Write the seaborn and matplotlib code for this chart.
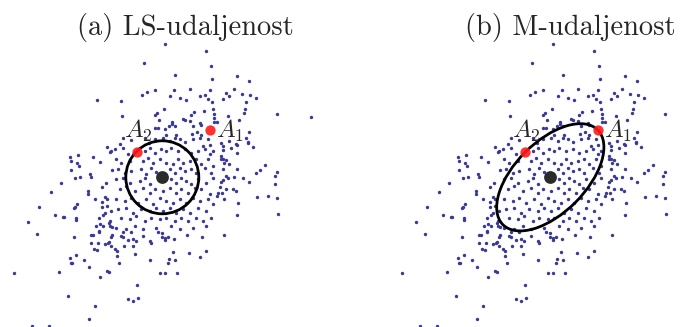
import matplotlib
matplotlib.use("Agg")
import matplotlib.pyplot as plt
from matplotlib.patches import Circle, Ellipse
import seaborn as sns
import pandas as pd

# ---- data (same sample in both panels) ----
xs = [
    # upper middle
    165.3, 206.3, 143.7, 211.3, 175.3, 212.0, 146.7, 142.3, 155.0, 174.0, 190.0, 210.3, 170.3, 180.0, 186.3,
    200.3, 204.7, 207.7, 212.0, 120.7, 164.0, 122.0, 156.7, 155.3, 194.3, 190.7, 204.3, 212.7, 214.3, 182.7,
    185.0, 189.7, 159.0, 171.7, 172.3, 199.7, 200.7, 169.0, 175.0, 155.3, 158.3, 164.7, 193.0, 214.0, 214.3,
    192.3, 197.3, 166.3, 176.0, 201.3,
    # upper right
    237.3, 249.3, 234.3, 226.0, 242.0, 250.0, 228.7, 222.7, 256.3, 246.3, 245.3, 244.0, 277.0, 311.3, 228.0,
    239.3, 217.3, 249.0,
    # upper left
    96.7,
    # middle left
    107.3, 111.3, 110.3, 77.7, 69.7, 93.3, 71.0, 100.3, 76.7, 79.0, 70.7, 112.0, 90.3, 91.0, 80.0,
    75.3, 61.0, 106.3, 102.3, 51.3, 88.0, 88.0, 95.0, 105.0, 107.0, 102.3, 77.3, 75.0, 74.3, 38.7,
    102.3, 107.3, 111.3, 105.0, 103.0, 55.3, 63.7, 63.0, 76.0, 75.7, 99.3, 28.3, 110.0, 109.3, 100.0,
    96.0, 102.7, 109.7, 111.7, 99.0,
    # center
    119.7, 131.3, 123.0, 144.7, 149.0, 154.7, 163.0, 169.7, 174.7, 179.7, 184.7, 193.0, 200.3, 208.0, 209.7, 203.0,
    114.7, 123.0, 128.0, 144.7, 149.7, 154.7, 161.3, 166.3, 171.3, 178.0, 184.7, 191.3, 198.0, 204.7, 209.7, 213.0,
    116.3, 121.3, 129.7, 143.0, 148.0, 153.0, 159.7, 166.3, 173.0, 178.0, 183.0, 189.7, 196.3, 201.3, 208.0, 213.0,
    118.0, 124.7, 131.3, 141.3, 146.3, 151.3, 156.3, 169.7, 174.7, 179.7, 184.7, 191.3, 196.3, 204.7, 211.3,
    116.3, 123.0, 129.7, 139.7, 144.7, 149.7, 171.3, 176.3, 181.3, 186.3, 191.3, 198.0, 206.3, 213.0,
    119.7, 126.3, 134.7, 143.0, 149.7, 154.7, 163.0, 169.7, 176.3, 181.3, 188.0, 194.7, 201.3, 209.7,
    116.3, 124.7, 131.3, 138.0, 146.3, 153.0, 159.7, 166.3, 173.0, 179.7, 186.3, 193.0, 199.7, 208.0, 213.0,
    118.0, 126.3, 133.0, 141.3, 149.7, 156.3, 163.0, 169.7, 176.3, 183.0, 189.7, 198.0, 206.3,
    121.3, 129.7, 136.3, 144.7, 151.3, 159.7, 166.3, 174.7, 181.3, 188.0, 196.3, 203.0, 211.3,
    116.3, 126.3, 134.7, 143.0, 156.3, 171.3, 179.7, 193.0, 206.3,
    # middle right
    220.7, 229.3, 223.0, 236.0, 237.0, 246.0, 248.3, 248.0, 253.3, 230.7, 223.0, 237.0, 220.7, 220.7, 222.7,
    226.0, 224.3, 228.7, 265.0, 223.0, 237.0, 259.7, 255.7, 277.0, 274.7, 233.7, 243.3, 226.0, 227.7, 223.3,
    221.0, 249.3, 275.3, 219.7, 226.0, 232.7, 235.7, 218.0, 222.0, 217.3, 223.7, 256.7, 268.0, 277.3, 237.7,
    237.0, 277.7,
    # lower left
    36.7, 74.0, 91.0, 92.7, 99.0, 110.7, 111.7, 91.3, 98.3, 105.0, 108.3, 109.3, 111.0, 94.3, 97.3,
    76.0, 70.3, 83.7, 70.7, 72.3, 89.0, 13.7, 58.7, 107.3, 109.3, 99.7, 68.3, 94.7, 88.7, 31.7, 49.0,
    # lower middle
    123.0, 131.3, 121.3, 122.7, 143.0, 133.0, 128.0, 136.0, 149.7, 151.3, 123.7, 132.7, 158.0, 162.3, 162.3,
    165.3, 165.3, 167.7, 174.0, 187.0, 202.3, 115.0, 116.7, 135.3, 173.3, 189.0, 206.3, 199.7, 117.3, 169.0,
    175.3, 149.7, 168.3, 118.7, 160.0, 164.7, 177.3, 137.3, 127.7, 132.7, 138.3,
    # lower right
    224.3,
]
ys = [
    44.3, 51.3, 62.7, 66.3, 75.3, 79.0, 92.0, 95.0, 90.3, 89.7, 88.7, 90.3, 96.0, 98.0, 100.0,
    96.3, 94.7, 99.0, 102.3, 101.3, 109.3, 115.7, 113.0, 114.7, 112.0, 114.7, 111.0, 108.7, 113.7, 118.7,
    120.0, 121.0, 120.3, 121.7, 124.0, 123.0, 125.0, 126.0, 126.0, 128.0, 128.3, 129.3, 126.0, 117.7, 122.0,
    134.0, 131.7, 135.0, 135.0, 135.3,
    75.7, 81.3, 89.0, 93.3, 94.0, 95.3, 96.0, 99.0, 98.0, 102.0, 109.3, 113.3, 114.3, 116.7, 116.3,
    120.0, 122.3, 132.0,
    100.3,
    146.7, 150.7, 151.7, 154.7, 157.3, 157.3, 160.7, 162.0, 163.3, 166.3, 170.0, 169.7, 174.3, 177.0, 177.0,
    178.3, 182.7, 183.0, 186.7, 191.7, 191.0, 194.3, 198.7, 197.3, 198.7, 201.7, 204.0, 207.0, 208.3, 207.0,
    206.7, 206.3, 211.0, 213.0, 214.7, 215.3, 216.7, 217.3, 218.3, 220.3, 218.3, 221.7, 221.0, 222.7, 224.3,
    226.0, 226.3, 226.0, 227.0, 231.3,
    144.3, 140.0, 137.7, 137.7, 142.7, 138.7, 137.7, 141.0, 137.7, 139.3, 142.0, 139.3, 137.7, 139.3, 145.3, 146.0,
    149.3, 147.7, 154.3, 151.0, 147.7, 152.7, 149.3, 151.0, 147.7, 151.0, 149.3, 152.7, 151.0, 149.3, 154.3, 151.0,
    159.3, 162.7, 161.0, 161.0, 157.7, 162.7, 159.3, 162.7, 164.3, 159.3, 162.7, 161.0, 159.3, 164.3, 159.3, 166.0,
    169.3, 172.7, 171.0, 169.3, 174.3, 167.7, 172.0, 169.3, 172.7, 167.7, 171.0, 169.3, 172.7, 167.7, 172.7,
    179.3, 177.7, 182.7, 181.0, 177.7, 184.3, 179.3, 182.7, 177.7, 181.0, 184.3, 179.3, 182.7, 177.7,
    189.3, 186.0, 191.0, 187.7, 192.7, 189.3, 191.0, 187.7, 192.7, 189.3, 192.7, 187.7, 189.3, 194.3,
    199.3, 201.0, 197.7, 202.7, 199.3, 204.3, 197.7, 201.0, 202.7, 199.3, 202.7, 197.7, 201.0, 199.3, 204.3,
    209.3, 207.7, 212.7, 209.3, 211.0, 207.7, 211.0, 207.7, 212.7, 209.3, 212.7, 207.7, 211.0,
    217.7, 219.3, 216.0, 221.0, 217.7, 219.3, 217.7, 221.0, 217.7, 221.0, 217.7, 221.0, 217.7,
    227.7, 229.3, 226.0, 229.3, 227.7, 226.0, 229.3, 227.7, 226.0,
    143.3, 141.3, 146.3, 144.0, 145.0, 138.3, 142.0, 143.3, 147.3, 147.7, 150.3, 153.0, 155.7, 159.0, 159.3,
    160.3, 162.7, 164.3, 165.0, 168.7, 168.7, 169.7, 173.0, 172.3, 176.0, 176.7, 177.7, 176.3, 178.0, 179.7,
    181.7, 182.3, 184.0, 186.7, 189.0, 189.3, 191.0, 193.3, 193.3, 196.0, 199.0, 197.3, 195.7, 197.7, 203.0,
    215.3, 213.7,
    233.7, 237.3, 235.3, 235.3, 232.0, 237.0, 234.7, 242.7, 243.0, 244.3, 243.0, 242.0, 246.0, 248.7, 250.3,
    255.3, 258.3, 260.3, 263.0, 262.7, 266.7, 273.0, 272.3, 271.3, 272.3, 277.3, 296.0, 306.0, 318.7, 326.3, 326.0,
    232.0, 232.0, 235.7, 237.0, 236.3, 239.0, 240.3, 241.3, 241.0, 243.3, 246.0, 246.0, 232.0, 232.7, 237.0,
    238.0, 240.0, 237.0, 238.7, 234.7, 236.7, 249.3, 251.0, 254.3, 252.0, 253.0, 251.3, 256.7, 256.3, 259.3,
    259.7, 260.3, 263.0, 263.0, 273.3, 273.3, 273.3, 284.7, 299.3, 300.7, 297.7,
    235.3,
]

center = (162.3, 177.3)
a1 = (209.5, 130.0)
a2 = (137.0, 151.5)
ls_radius = 36.5
m_axes = (134.0, 71.0, -45.0)   # full width, full height, angle of the M-distance ellipse

df = pd.DataFrame({"x": xs, "y": ys})

sns.set_theme(style="white")
plt.rcParams["mathtext.fontset"] = "cm"

W, H = 697, 327
fig = plt.figure(figsize=(W / 100, H / 100), dpi=100)

panels = [
    ([0, 0, 348 / W, 1], (0, 348), "(a) LS-udaljenost", 185),
    ([348 / W, 0, 349 / W, 1], (-40, 309), "(b) M-udaljenost", 570),
]

dot_color = "#3a3a96"

for i, (rect, xlim, title, tx) in enumerate(panels):
    ax = fig.add_axes(rect)
    sns.scatterplot(data=df, x="x", y="y", ax=ax, s=6, color=dot_color,
                    linewidth=0, legend=False, zorder=2)
    if i == 0:
        shape = Circle(center, ls_radius, fill=False, lw=2.0, ec="black", zorder=3)
    else:
        shape = Ellipse(center, m_axes[0], m_axes[1], angle=m_axes[2],
                        fill=False, lw=2.0, ec="black", zorder=3)
    ax.add_patch(shape)
    ax.scatter([a1[0], a2[0]], [a1[1], a2[1]], s=55, color="#ff1a1a", alpha=0.9,
               linewidth=0, zorder=4)
    ax.scatter([center[0]], [center[1]], s=85, color="#2b2b2b", linewidth=0, zorder=5)
    ax.text(a2[0] - 13.5, 137.5, r"$A_2$", fontsize=18, ha="left", va="baseline", zorder=6)
    ax.text(a1[0] + 7, 138, r"$A_1$", fontsize=18, ha="left", va="baseline", zorder=6)
    ax.set_xlim(*xlim)
    ax.set_ylim(H, 0)
    ax.set_axis_off()
    fig.text(tx / W, 1 - 28 / H, title, fontsize=20.5, family="cmr10",
             ha="center", va="center")

fig.savefig("out.png", dpi=100)
